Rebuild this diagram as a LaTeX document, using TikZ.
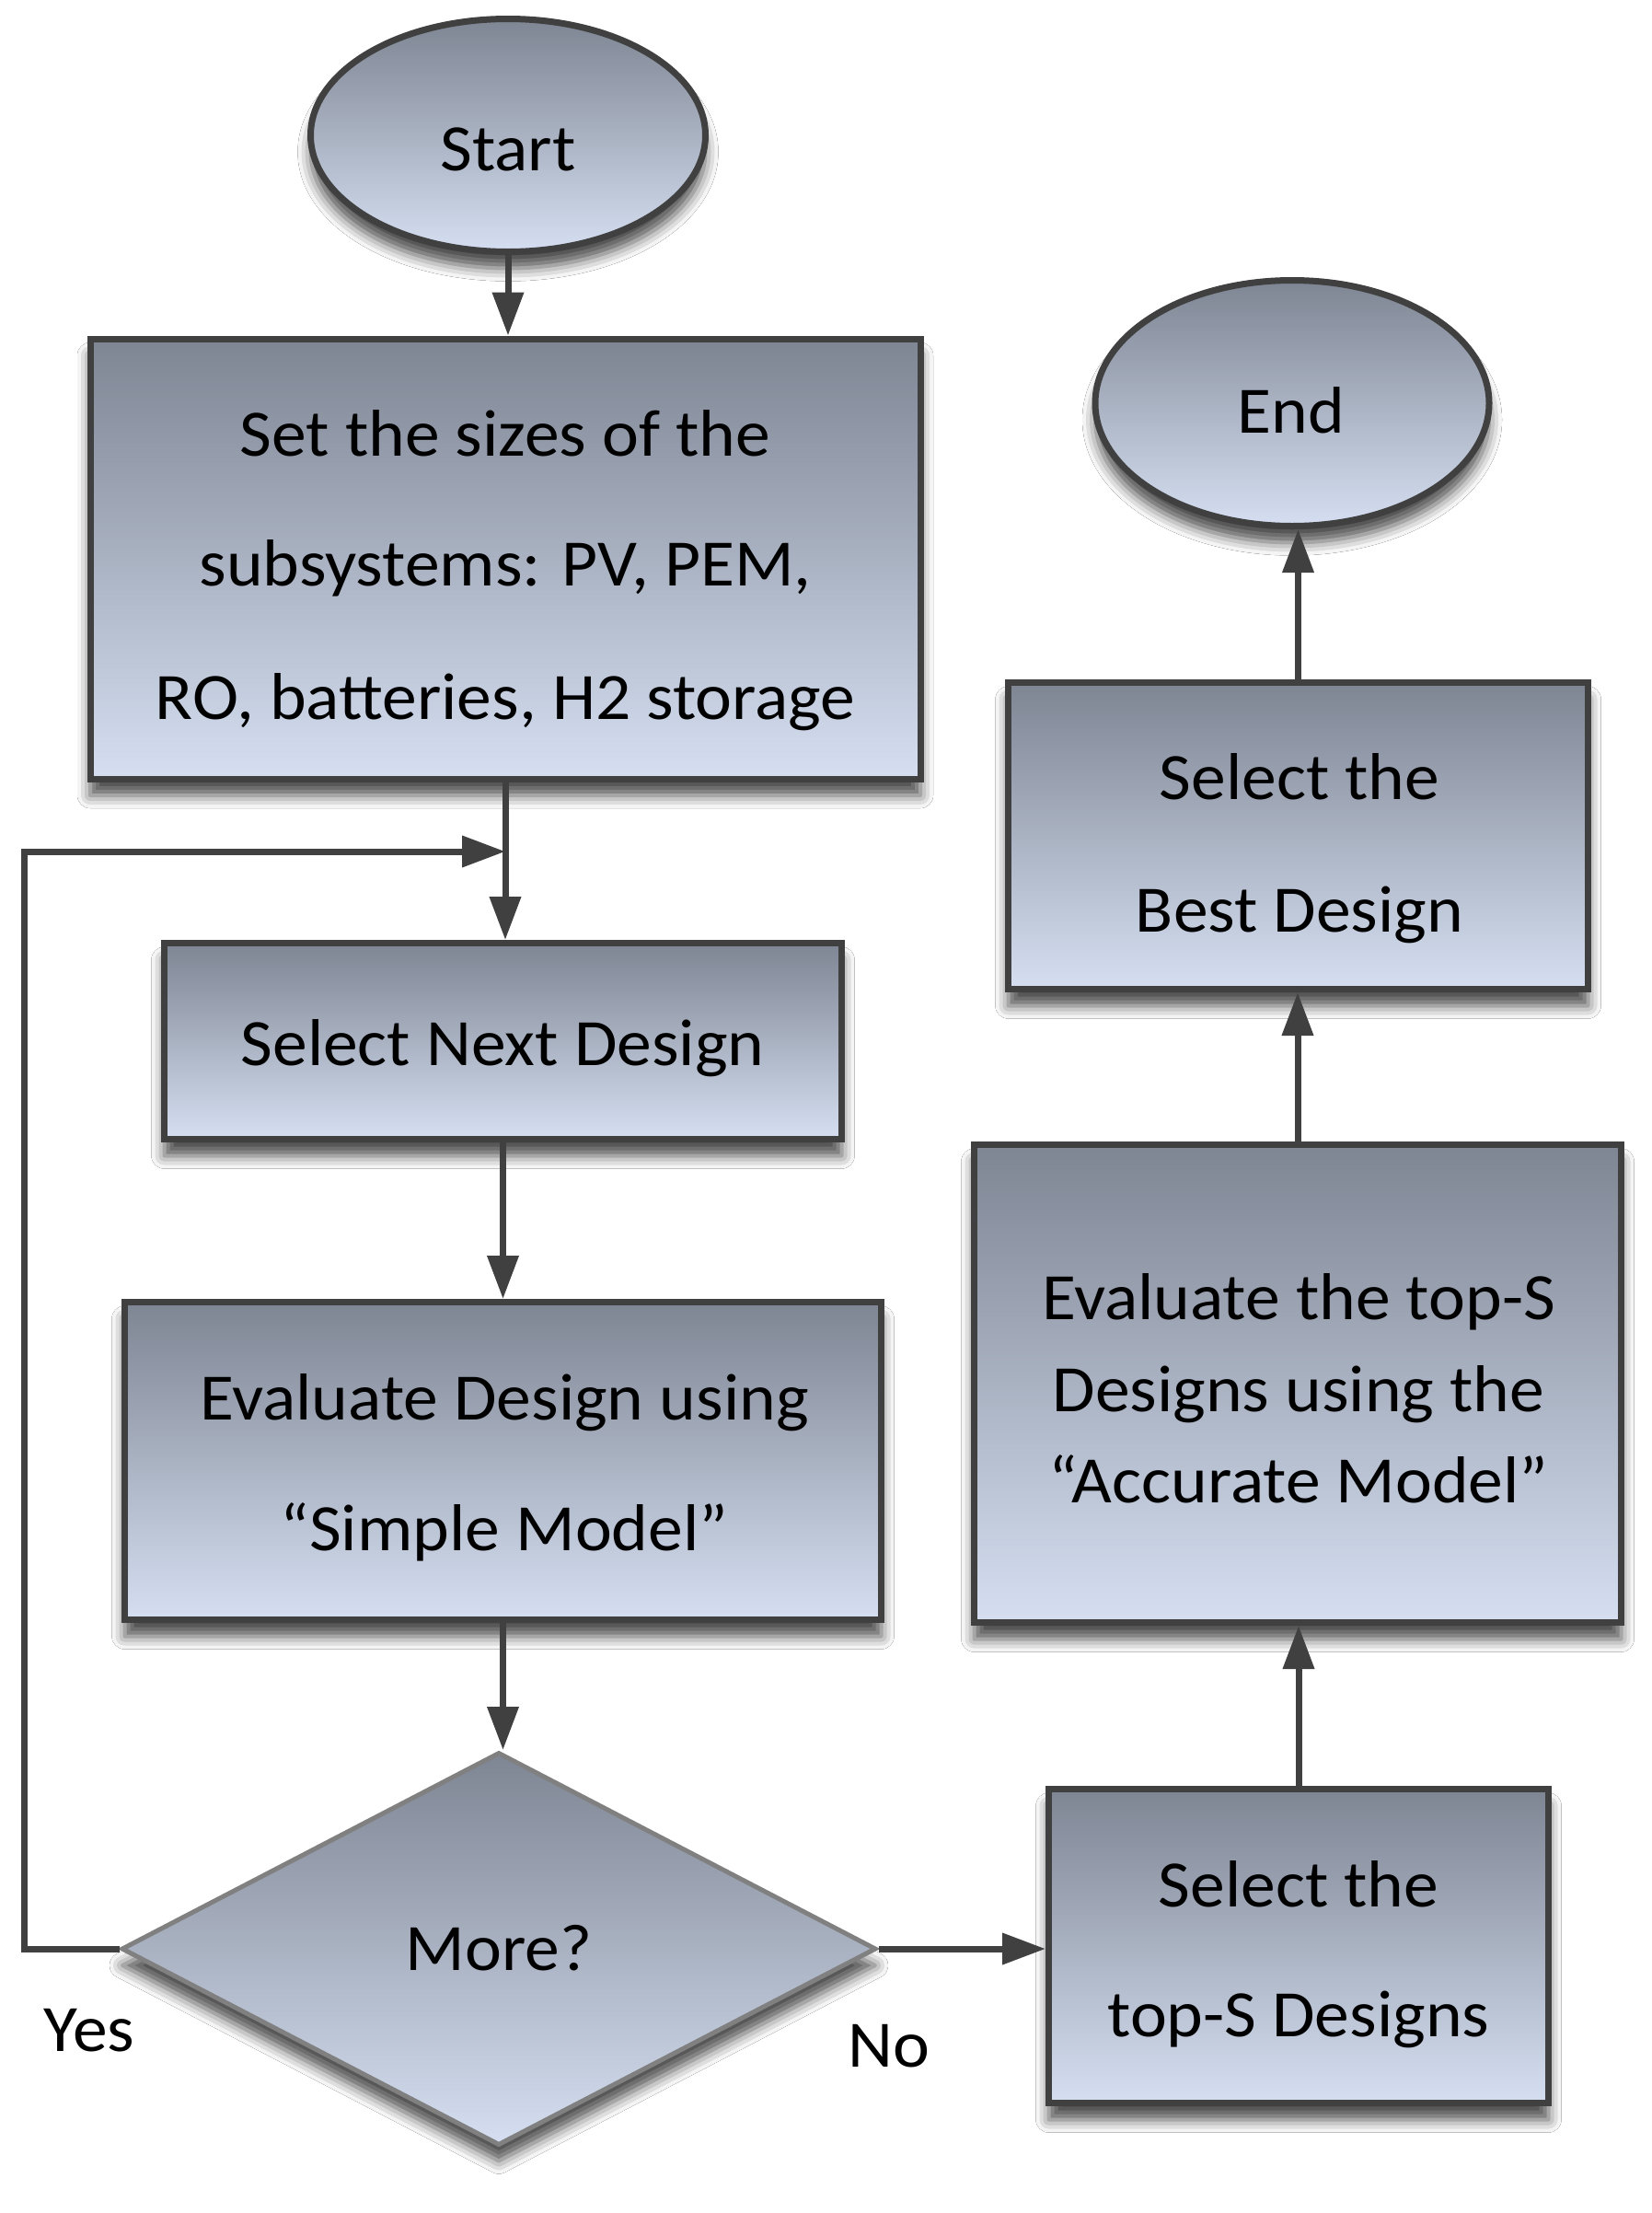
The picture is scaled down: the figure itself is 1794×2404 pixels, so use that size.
\documentclass[tikz,border=0pt]{standalone}
\usepackage{fontspec}
\setmainfont[FakeStretch=1.05]{Carlito}
\usetikzlibrary{shapes.geometric,arrows.meta,shadows.blur}
\definecolor{gtop}{RGB}{126,133,147}
\definecolor{gbot}{RGB}{213,223,241}
\definecolor{edgec}{RGB}{64,64,64}
\definecolor{diaedge}{RGB}{128,128,128}
\tikzset{
  shad/.style={blur shadow={shadow xshift=0pt, shadow yshift=-9pt, shadow blur radius=7pt, shadow opacity=70}},
  box/.style={rectangle, draw=edgec, line width=3.5pt, top color=gtop, bottom color=gbot, inner sep=0pt, shad},
  oval/.style={ellipse, draw=edgec, line width=3.5pt, top color=gtop, bottom color=gbot, inner sep=0pt, shad},
  dia/.style={diamond, draw=diaedge, line width=2.5pt, top color=gtop, bottom color=gbot, inner sep=0pt, shad},
  txt/.style={anchor=base, font=\fontsize{36pt}{40pt}\selectfont, inner sep=0pt, text=black},
  arr/.style={draw=edgec, line width=3.5pt, -{Triangle[length=23.5pt,width=16.5pt]}},
}
\begin{document}
\begin{tikzpicture}[x=0.5pt,y=-0.5pt]
\useasboundingbox (0,0) rectangle (1794,2404);
\fill[white] (0,0) rectangle (1794,2404);

% shapes
\node[oval, minimum width=214.5pt, minimum height=126.5pt] (start) at (552,147) {};
\node[box, minimum width=451pt, minimum height=239pt] (set) at (549,607) {};
\node[box, minimum width=368pt, minimum height=106.5pt] (selnext) at (546.5,1131) {};
\node[box, minimum width=411pt, minimum height=172.5pt] (evald) at (546.5,1587) {};
\node[dia, minimum width=410pt, minimum height=213.5pt] (dec) at (542,2117) {};
\node[box, minimum width=271.5pt, minimum height=170.5pt] (seltop) at (1411,2114) {};
\node[box, minimum width=351.5pt, minimum height=259.5pt] (evaltop) at (1410,1503) {};
\node[box, minimum width=315pt, minimum height=166.5pt] (best) at (1410.5,908) {};
\node[oval, minimum width=214pt, minimum height=133.5pt] (endn) at (1404,438) {};

% texts
\node[txt] (tstart) at (552,185) {Start};
\node[txt] (tset1) at (549,495) {Set the sizes of the};
\node[txt] (tset2) at (549,636) {subsystems: PV, PEM,};
\node[txt] (tset3) at (549,781) {RO, batteries, H2 storage};
\node[txt] (tsel) at (546,1157) {Select Next Design};
\node[txt] (tev1) at (548,1542) {Evaluate Design using};
\node[txt] (tev2) at (548,1684) {“Simple Model”};
\node[txt] (tdec) at (542,2140) {More?};
\node[txt] (tyes) at (97,2228) {Yes};
\node[txt] (tno) at (966,2245) {No};
\node[txt] (tst1) at (1411,2071) {Select the};
\node[txt] (tst2) at (1411,2212) {top-S Designs};
\node[txt] (tet1) at (1411,1433) {Evaluate the top-S};
\node[txt] (tet2) at (1411,1533) {Designs using the};
\node[txt] (tet3) at (1411,1632) {“Accurate Model”};
\node[txt] (tb1) at (1412,868) {Select the};
\node[txt] (tb2) at (1412,1012) {Best Design};
\node[txt] (tend) at (1403,470) {End};

% connectors
\coordinate (lc) at (26,925);
\coordinate (lj) at (set.south |- lc);
\draw[arr] (start.south) -- (start.south |- set.north);
\draw[arr] (set.south) -- (set.south |- selnext.north);
\draw[arr] (selnext.south) -- (selnext.south |- evald.north);
\draw[arr] (evald.south) -- (evald.south |- dec.north);
\draw[arr, line join=miter] (dec.west) -| (lc) -- (lj);
\draw[arr] (dec.east) -- (dec.east -| seltop.west);
\draw[arr] (seltop.north) -- (seltop.north |- evaltop.south);
\draw[arr] (evaltop.north) -- (evaltop.north |- best.south);
\draw[arr] (best.north) -- (best.north |- endn.south);
\end{tikzpicture}
\end{document}
